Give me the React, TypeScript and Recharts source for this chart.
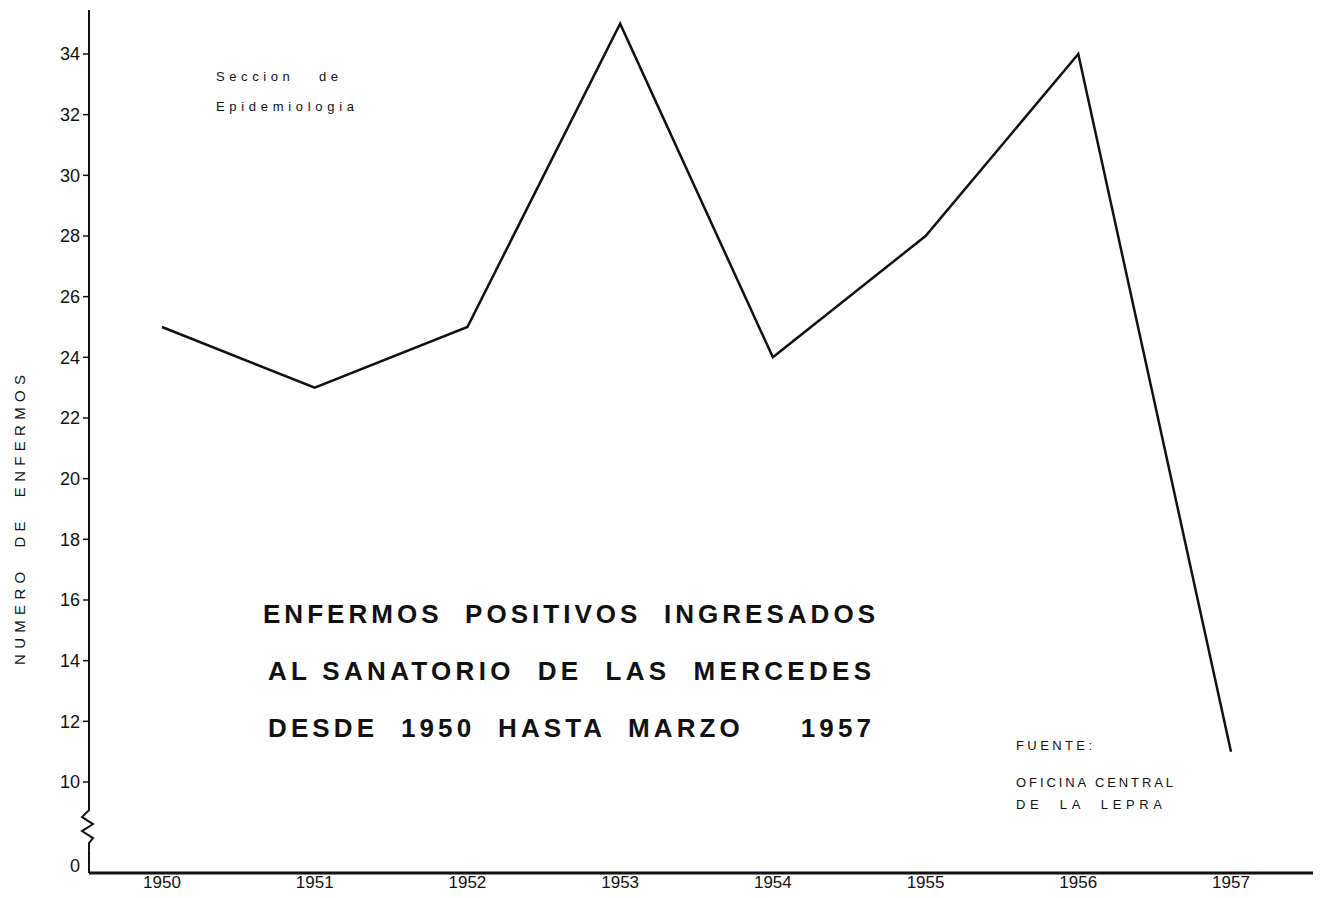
import React from "react";
import { LineChart, Line, XAxis, YAxis } from "recharts";

// Enfermos positivos ingresados, Sanatorio de Las Mercedes
const years = ["1950", "1951", "1952", "1953", "1954", "1955", "1956", "1957"];
const patients = [25, 23, 25, 35, 24, 28, 34, 11];
const yTicks = [10, 12, 14, 16, 18, 20, 22, 24, 26, 28, 30, 32, 34];

// broken axis: "0" is drawn just above the x axis, zigzag in between
const ZERO_AT = 7.25;
const BREAK_AT = 8.48;
const Y_DOMAIN = [7, 35.45];

const titleLines = [
  "ENFERMOS  POSITIVOS  INGRESADOS",
  "AL SANATORIO  DE  LAS  MERCEDES",
  "DESDE  1950  HASTA  MARZO     1957",
];
const sectionLines = ["Seccion   de", "Epidemiologia"];
const sourceLines = ["FUENTE:", "OFICINA CENTRAL", "DE  LA  LEPRA"];

const data = years.map((year, i) => ({ year, value: patients[i] }));

const FONT = "'Liberation Sans', Arial, sans-serif";

function YTick(props: any) {
  const { x, y, payload } = props;
  const v = payload.value;
  const ax = x + 9;
  if (v === BREAK_AT) {
    const d = `M${ax},${y - 22} L${ax},${y - 18} L${ax - 7},${y - 11} L${ax + 4},${y - 4} L${ax - 7},${y + 3} L${ax + 4},${y + 10} L${ax},${y + 15} L${ax},${y + 22}`;
    return (
      <g>
        <rect x={ax - 3} y={y - 22} width={6} height={44} fill="#fff" />
        <path d={d} fill="none" stroke="#111" strokeWidth={2} />
      </g>
    );
  }
  const label = v === ZERO_AT ? "0" : String(v);
  return (
    <g>
      {v !== ZERO_AT && (
        <line x1={ax - 6} y1={y} x2={ax} y2={y} stroke="#111" strokeWidth={1.5} />
      )}
      <text
        x={x}
        y={y}
        dy="0.35em"
        textAnchor="end"
        fill="#111"
        fontSize={18}
        fontFamily={FONT}
      >
        {label}
      </text>
    </g>
  );
}

export default function App() {
  return (
    <div style={{ position: "absolute", left: 0, top: 0, width: 1325, height: 898, background: "#fff" }}>
      <LineChart
        width={1325}
        height={898}
        data={data}
        margin={{ top: 10, right: 12, bottom: 0, left: 0 }}
      >
        <XAxis
          dataKey="year"
          padding={{ left: 73, right: 82 }}
          height={25}
          axisLine={{ stroke: "#111", strokeWidth: 3 }}
          tickLine={false}
          tickSize={0}
          tickMargin={3}
          tick={{ fill: "#111", fontSize: 17, fontFamily: FONT }}
        />
        <YAxis
          type="number"
          domain={Y_DOMAIN}
          ticks={[ZERO_AT, BREAK_AT, ...yTicks]}
          interval={0}
          width={89}
          axisLine={{ stroke: "#111", strokeWidth: 2 }}
          tickLine={false}
          tickSize={0}
          tickMargin={9}
          tick={<YTick />}
        />
        <Line
          type="linear"
          dataKey="value"
          stroke="#111"
          strokeWidth={2.5}
          dot={false}
          isAnimationActive={false}
        />
      </LineChart>
      <svg
        width={1325}
        height={898}
        style={{ position: "absolute", left: 0, top: 0, pointerEvents: "none" }}
        fontFamily={FONT}
        fill="#111"
      >
        <text
          transform="translate(25,520) rotate(-90)"
          textAnchor="middle"
          fontSize={15}
          textLength={290}
          lengthAdjust="spacing"
          style={{ whiteSpace: "pre" }}
        >
          NUMERO  DE  ENFERMOS
        </text>
        {sectionLines.map((t, i) => (
          <text
            key={t}
            x={216}
            y={81 + i * 30}
            fontSize={13}
            textLength={i === 0 ? 122 : 138}
            lengthAdjust="spacing"
            style={{ whiteSpace: "pre" }}
          >
            {t}
          </text>
        ))}
        {titleLines.map((t, i) => (
          <text
            key={t}
            x={i === 0 ? 263 : 268}
            y={623 + i * 57}
            fontSize={26}
            fontWeight="bold"
            textLength={i === 0 ? 612 : 603}
            lengthAdjust="spacing"
            style={{ whiteSpace: "pre" }}
          >
            {t}
          </text>
        ))}
        {sourceLines.map((t, i) => (
          <text
            key={t}
            x={1016}
            y={[750, 787, 809][i]}
            fontSize={13}
            textLength={[76, 157, 146][i]}
            lengthAdjust="spacing"
            style={{ whiteSpace: "pre" }}
          >
            {t}
          </text>
        ))}
      </svg>
    </div>
  );
}
